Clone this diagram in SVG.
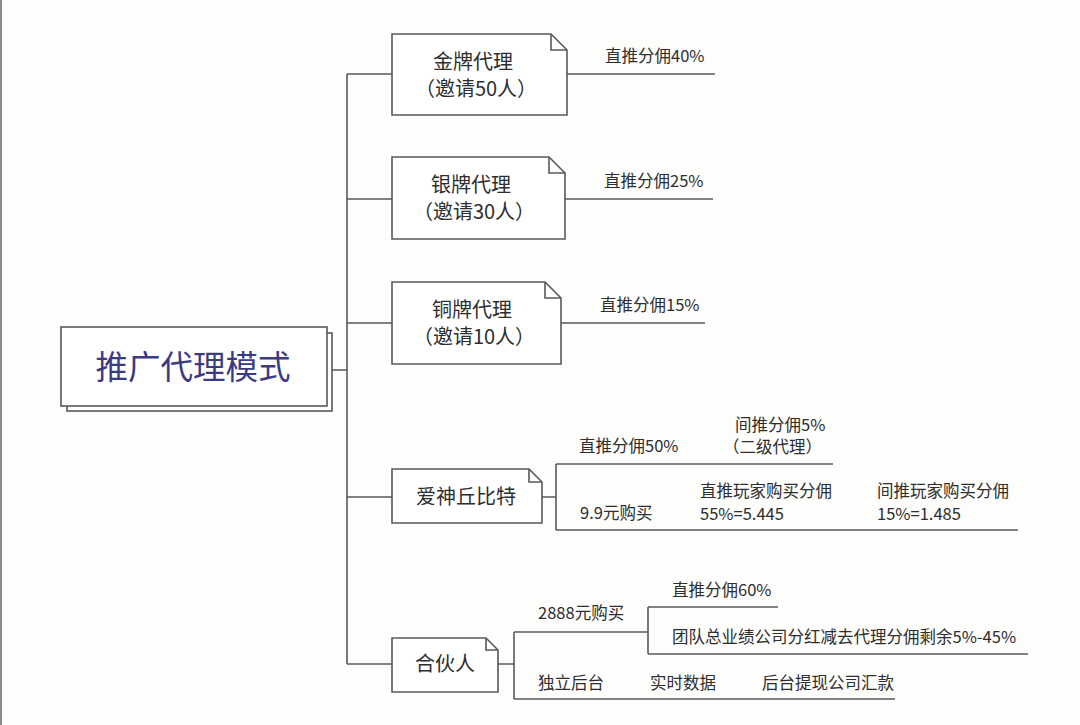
<svg xmlns="http://www.w3.org/2000/svg" width="1080" height="725" viewBox="0 0 1080 725">
<style>
.ln{fill:none;stroke:#595959;stroke-width:1.6}
.box{fill:#fff;stroke:#595959;stroke-width:1.6;stroke-linejoin:miter}
.nt{font-family:"Noto Sans CJK SC","Noto Sans",sans-serif;font-size:20px;fill:#2e2e2e;text-anchor:middle}
.lb{font-family:"Noto Sans CJK SC","Noto Sans",sans-serif;font-size:16.5px;fill:#2e2e2e}
.rt{font-family:"Noto Sans CJK SC","Noto Sans",sans-serif;font-size:32.5px;fill:#3b3b85;text-anchor:middle}
</style>
<rect x="0" y="0" width="1080" height="725" fill="#fdfdfc"/>
<rect x="0" y="0" width="2" height="725" fill="#8a8a8a"/>
<g id="connectors">
<path class="ln" d="M332 370H347M347 74V664M347 74H392M347 199H392M347 323H392M347 497H392M347 664H392"/>
<path class="ln" d="M567 74H715M565 199H713M561 323H705"/>
<path class="ln" d="M542 497H556M556 464V530M556 464H833M556 530H1018"/>
<path class="ln" d="M498 664H514M514 632V699M514 632H648M648 607V654M648 607H778M648 654H1028M514 699H895"/>
</g>
<g id="root">
<rect class="box" x="67" y="333" width="265" height="78"/>
<rect class="box" x="61" y="327" width="266" height="79"/>
<text class="rt" x="193" y="379">推广代理模式</text>
</g>
<g id="gold">
<path class="box" d="M392 34H551L567 50V115H392Z"/>
<path class="ln" d="M551 34V50H567"/>
<text class="nt" x="473" y="69">金牌代理</text>
<text class="nt" x="476" y="96">（邀请50人）</text>
</g>
<g id="silver">
<path class="box" d="M392 157H549L565 173V239H392Z"/>
<path class="ln" d="M549 157V173H565"/>
<text class="nt" x="471" y="192">银牌代理</text>
<text class="nt" x="474" y="219">（邀请30人）</text>
</g>
<g id="bronze">
<path class="box" d="M392 282H545L561 298V364H392Z"/>
<path class="ln" d="M545 282V298H561"/>
<text class="nt" x="472" y="317">铜牌代理</text>
<text class="nt" x="474" y="344">（邀请10人）</text>
</g>
<g id="cupid">
<path class="box" d="M392 469H529L542 482V523H392Z"/>
<path class="ln" d="M529 469V482H542"/>
<text class="nt" x="466" y="504">爱神丘比特</text>
</g>
<g id="partner">
<path class="box" d="M392 638H486L498 650V692H392Z"/>
<path class="ln" d="M486 638V650H498"/>
<text class="nt" x="445" y="671">合伙人</text>
</g>
<g id="labels">
<text class="lb" x="605" y="62">直推分佣40%</text>
<text class="lb" x="604" y="187">直推分佣25%</text>
<text class="lb" x="600" y="311">直推分佣15%</text>
<text class="lb" x="579" y="452">直推分佣50%</text>
<text class="lb" x="735" y="431">间推分佣5%</text>
<text class="lb" x="723" y="453">（二级代理）</text>
<text class="lb" x="580" y="519">9.9元购买</text>
<text class="lb" x="700" y="497">直推玩家购买分佣</text>
<text class="lb" x="700" y="520">55%=5.445</text>
<text class="lb" x="877" y="497">间推玩家购买分佣</text>
<text class="lb" x="877" y="520">15%=1.485</text>
<text class="lb" x="538" y="619">2888元购买</text>
<text class="lb" x="672" y="596">直推分佣60%</text>
<text class="lb" x="672" y="643">团队总业绩公司分红减去代理分佣剩余5%-45%</text>
<text class="lb" x="538" y="689">独立后台</text>
<text class="lb" x="650" y="689">实时数据</text>
<text class="lb" x="762" y="689">后台提现公司汇款</text>
</g>
</svg>
